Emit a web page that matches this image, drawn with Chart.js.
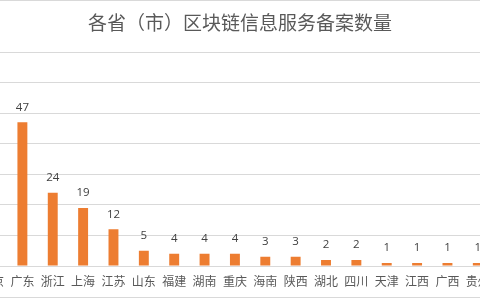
<!DOCTYPE html>
<html>
<head>
<meta charset="utf-8">
<script src="https://cdn.jsdelivr.net/npm/chart.js@4"></script>
<style>
    html, body { margin: 0; padding: 0; background: #fff; }
    #wrap { position: relative; width: 480px; height: 300px; overflow: hidden; }
    #frame { position: absolute; left: 0; top: 0; width: 480px; height: 296px;
             border-top: 1px solid #d9d9d9; border-bottom: 1px solid #d9d9d9; }
    #title { position: absolute; left: 0; top: 10px; width: 480px; text-align: center;
             font: 19px "Noto Sans CJK SC", sans-serif; line-height: 24px; color: #595959; }
    #box { position: absolute; left: -28px; top: 0; width: 530px; height: 300px; }
</style>
</head>
<body>
<div id="wrap">
    <div id="frame"></div>
    <div id="box"><canvas id="bar_Chart" width="530" height="300"></canvas></div>
    <div id="title">各省（市）区块链信息服务备案数量</div>
</div>
<script>
// 省份 (첫 항목은 왼쪽 가장자리에서 잘려 보임)
const provinces = ['北京', '广东', '浙江', '上海', '江苏', '山东', '福建', '湖南', '重庆',
    '海南', '陕西', '湖北', '四川', '天津', '江西', '广西', '贵州'];
const filings = [null, 47, 24, 19, 12, 5, 4, 4, 4, 3, 3, 2, 2, 1, 1, 1, 1];
const yTicks = [0, 10, 20, 30, 40, 50, 60, 70];

// 막대 위 값 표시
const valueLabels = {
    id: 'valueLabels',
    afterDatasetsDraw(chart) {
        const ctx = chart.ctx;
        const meta = chart.getDatasetMeta(0);
        ctx.save();
        ctx.font = '11.5px "Open Sans", sans-serif';
        ctx.fillStyle = '#404040';
        ctx.textAlign = 'center';
        ctx.textBaseline = 'alphabetic';
        meta.data.forEach((bar, i) => {
            const v = chart.data.datasets[0].data[i];
            if (v == null) return;
            ctx.fillText(String(v), bar.x, bar.y - 11.5);
        });
        ctx.restore();
    }
};

const ctxBar = document.getElementById('bar_Chart').getContext('2d');
new Chart(ctxBar, {
    type: 'bar',
    data: {
        labels: provinces,
        datasets: [{
            data: filings,
            backgroundColor: '#ED7D31',
            barPercentage: 0.327,
            categoryPercentage: 1
        }]
    },
    options: {
        responsive: false,
        animation: false,
        devicePixelRatio: 1,
        layout: {
            padding: { left: 1, right: 9, top: 52, bottom: 3.6 }
        },
        plugins: {
            legend: { display: false },
            title: { display: false },
            tooltip: { enabled: false }
        },
        scales: {
            x: {
                grid: { display: false, drawTicks: false },
                border: { display: true, color: '#d9d9d9' },
                ticks: {
                    autoSkip: false,
                    maxRotation: 0,
                    padding: 8,
                    color: '#595959',
                    font: { family: '"Noto Sans CJK SC", sans-serif', size: 12 }
                }
            },
            y: {
                min: yTicks[0],
                max: yTicks[yTicks.length - 1],
                afterBuildTicks: (scale) => { scale.ticks = yTicks.map(v => ({ value: v })); },
                grid: { color: '#d9d9d9', drawTicks: false },
                border: { display: false },
                ticks: { display: false }
            }
        }
    },
    plugins: [valueLabels]
});
</script>
</body>
</html>
